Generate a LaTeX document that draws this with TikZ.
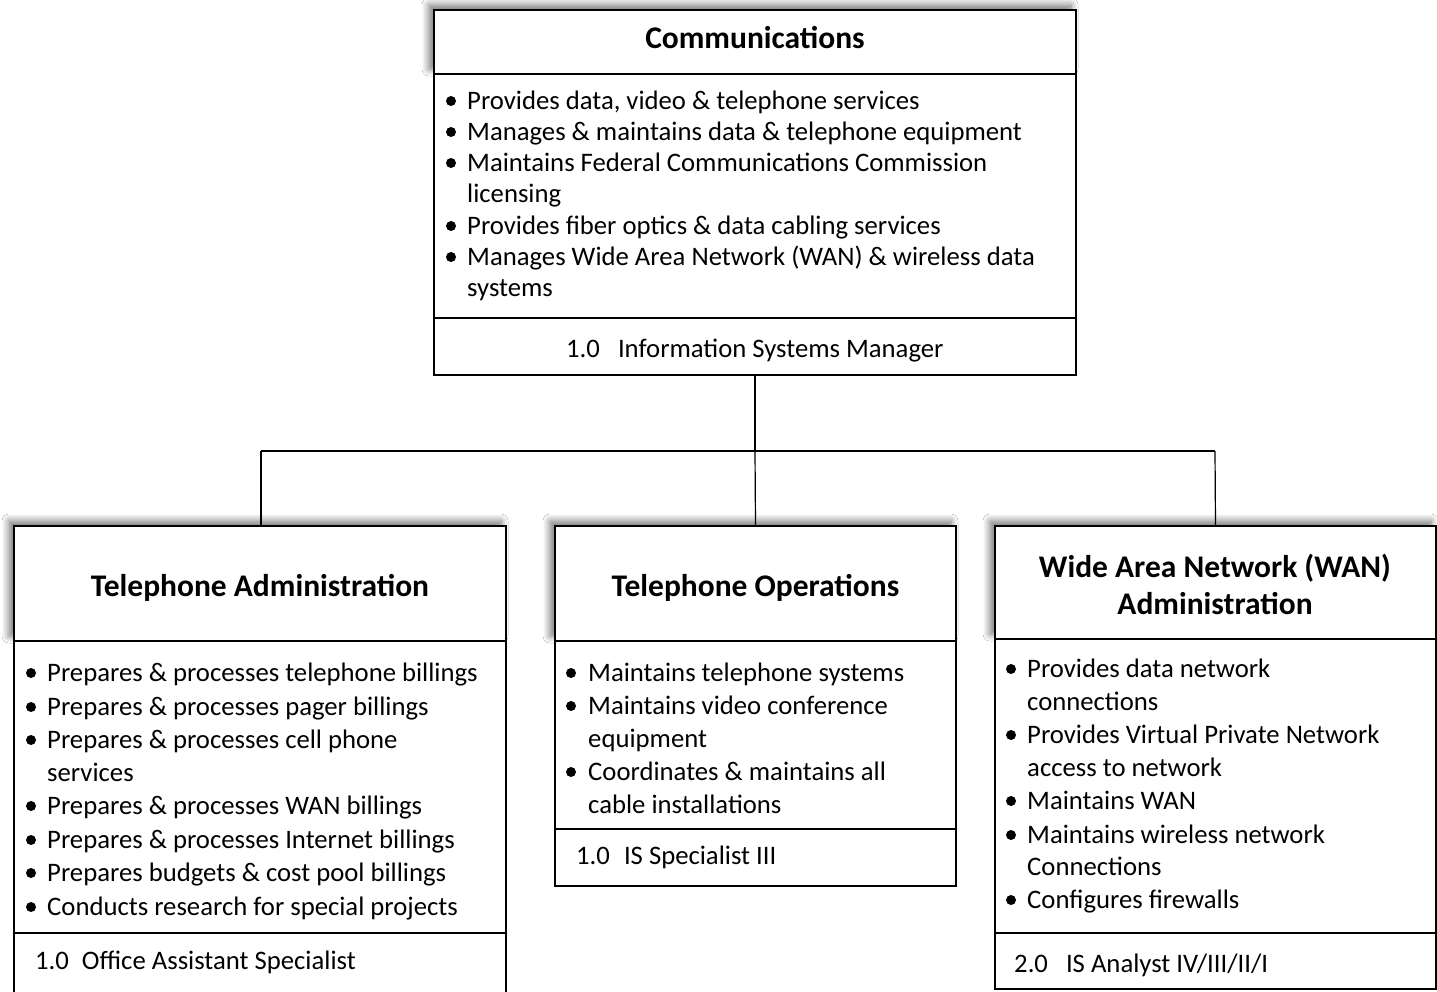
\documentclass[tikz,border=0pt]{standalone}
\usepackage{fontspec}
\setmainfont{Carlito}
\usetikzlibrary{shadows.blur}
\begin{document}
\begin{tikzpicture}[x=1pt,y=-1pt,
  box/.style={draw=black, line width=1.2pt, fill=white, rectangle, anchor=north west, inner sep=0pt, outer sep=0pt},
  titlebox/.style={box, blur shadow={shadow xshift=-5pt, shadow yshift=5pt, shadow blur radius=7pt, shadow blur steps=10, shadow opacity=55}},
  ttl/.style={anchor=base, inner sep=0pt, font=\fontsize{31.5}{38}\selectfont\bfseries},
  itm/.style={anchor=base west, inner sep=0pt, font=\fontsize{26.7}{32}\selectfont},
  bul/.style={circle, fill=black, inner sep=0pt, minimum size=10pt},
  foot/.style={anchor=base west, inner sep=0pt, font=\fontsize{26.7}{32}\selectfont},
  conn/.style={draw=black, line width=1.2pt}
]
\useasboundingbox (0,0) rectangle (1437,991);
\fill[white] (0,0) rectangle (1437,991);

% ---------- top box ----------
\node[titlebox, minimum width=642pt, minimum height=64pt] (ctitle) at (434,10) {};
\node[ttl] (ctitletxt) at (755,48) {Communications};
\node[box, minimum width=642pt, minimum height=244pt] (clist) at (434,74) {};
\node[box, minimum width=642pt, minimum height=57pt] (cfoot) at (434,318) {};
\node[foot] (cfoottxt) at (566,357) {1.0\hspace{18pt}Information Systems Manager};
\foreach \y/\t/\b [count=\i] in {
  100/{Provides data, video \& telephone services}/1,
  131/{Manages \& maintains data \& telephone equipment}/1,
  162/{Maintains Federal Communications Commission}/1,
  193/{licensing}/0,
  225/{Provides fiber optics \& data cabling services}/1,
  256/{Manages Wide Area Network (WAN) \& wireless data}/1,
  287/{systems}/0}{
  \node[itm] (c\i) at (467,\y+9) {\t};
  \ifnum\b=1 \node[bul] (cb\i) at (451,\y+1) {}; \fi
}

% ---------- left box ----------
\node[titlebox, minimum width=492pt, minimum height=115pt] (atitle) at (14,526) {};
\node[ttl] (atitletxt) at (260,596) {Telephone Administration};
\node[box, minimum width=492pt, minimum height=292pt] (alist) at (14,641) {};
\node[box, minimum width=492pt, minimum height=62pt] (afoot) at (14,933) {};
\node[foot] (afoottxt) at (35,969) {1.0\hspace{13pt}Office Assistant Specialist};
\foreach \y/\t/\b [count=\i] in {
  672/{Prepares \& processes telephone billings}/1,
  706/{Prepares \& processes pager billings}/1,
  739/{Prepares \& processes cell phone}/1,
  772/{services}/0,
  805/{Prepares \& processes WAN billings}/1,
  839/{Prepares \& processes Internet billings}/1,
  872/{Prepares budgets \& cost pool billings}/1,
  906/{Conducts research for special projects}/1}{
  \node[itm] (a\i) at (47,\y+9) {\t};
  \ifnum\b=1 \node[bul] (ab\i) at (31,\y+1) {}; \fi
}

% ---------- middle box ----------
\node[titlebox, minimum width=401pt, minimum height=115pt] (otitle) at (555,526) {};
\node[ttl] (otitletxt) at (755.5,596) {Telephone Operations};
\node[box, minimum width=401pt, minimum height=188pt] (olist) at (555,641) {};
\node[box, minimum width=401pt, minimum height=57pt] (ofoot) at (555,829) {};
\node[foot] (ofoottxt) at (576,864) {1.0\hspace{14pt}IS Specialist III};
\foreach \y/\t/\b [count=\i] in {
  672/{Maintains telephone systems}/1,
  705/{Maintains video conference}/1,
  738/{equipment}/0,
  771/{Coordinates \& maintains all}/1,
  804/{cable installations}/0}{
  \node[itm] (o\i) at (588,\y+9) {\t};
  \ifnum\b=1 \node[bul] (ob\i) at (571,\y+1) {}; \fi
}

% ---------- right box ----------
\node[titlebox, minimum width=441pt, minimum height=113pt] (wtitle) at (995,526) {};
\node[ttl] (wtitletxt1) at (1215,577) {Wide Area Network (WAN)};
\node[ttl] (wtitletxt2) at (1215,614) {Administration};
\node[box, minimum width=441pt, minimum height=294pt] (wlist) at (995,639) {};
\node[box, minimum width=441pt, minimum height=56pt] (wfoot) at (995,933) {};
\node[foot] (wfoottxt) at (1014,972) {2.0\hspace{18pt}IS Analyst IV/III/II/I};
\foreach \y/\t/\b [count=\i] in {
  668/{Provides data network}/1,
  701/{connections}/0,
  734/{Provides Virtual Private Network}/1,
  767/{access to network}/0,
  800/{Maintains WAN}/1,
  834/{Maintains wireless network}/1,
  866/{Connections}/0,
  899/{Configures firewalls}/1}{
  \node[itm] (w\i) at (1027,\y+9) {\t};
  \ifnum\b=1 \node[bul] (wb\i) at (1011,\y+1) {}; \fi
}

% ---------- connectors ----------
\coordinate (junc) at (755,451);
\coordinate (jl) at (261,451);
\coordinate (jr) at (1215,451);
\draw[conn] (cfoot.south) -- (junc);
\draw[conn] (jl) -- (jr);
\draw[conn] (jl) -- (jl |- atitle.north);
\draw[conn] (junc) -- (otitle.north);
\draw[conn] (jr) -- (wtitle.north);
\end{tikzpicture}
\end{document}
